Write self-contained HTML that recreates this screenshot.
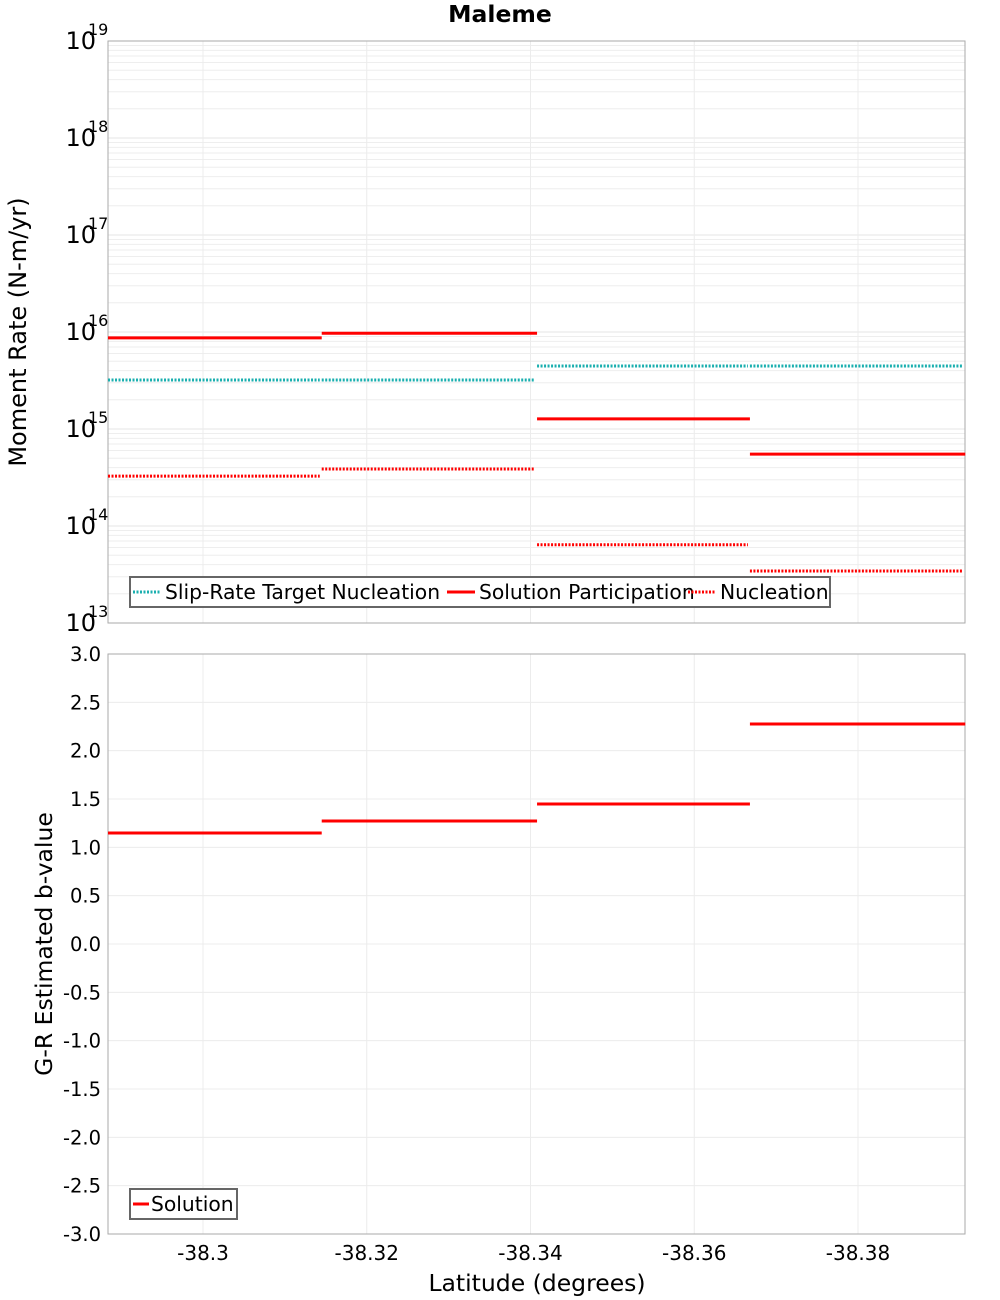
<!DOCTYPE html>
<html><head><meta charset="utf-8"><style>
body{margin:0;background:#fff;}
svg{display:block;font-family:"DejaVu Sans","Liberation Sans",sans-serif;}
</style></head><body>
<svg id="c" width="1000" height="1300" xmlns="http://www.w3.org/2000/svg"></svg>
<script>
// data
const segStarts = [-38.2884, -38.3145, -38.3408, -38.3668];
const segEnds   = [-38.3145, -38.3408, -38.3668, -38.3931];
const slipTarget = [3.2e15, 3.2e15, 4.46e15, 4.46e15];
const solutionPart = [8.7e15, 9.7e15, 1.27e15, 5.5e14];
const nucleation = [3.27e14, 3.87e14, 6.4e13, 3.44e13];
const bValues = [1.148, 1.272, 1.448, 2.276];
const xTicks = [-38.3, -38.32, -38.34, -38.36, -38.38];
const xTickLabels = ["-38.3", "-38.32", "-38.34", "-38.36", "-38.38"];
const logTicks = [13, 14, 15, 16, 17, 18, 19];
const bTicks = [3.0,2.5,2.0,1.5,1.0,0.5,0.0,-0.5,-1.0,-1.5,-2.0,-2.5,-3.0];

const NS="http://www.w3.org/2000/svg";
const svg=document.getElementById('c');
const L=108,R=965,T1=41,B1=623,T2=654,B2=1234;
const X=v=>203+(-38.3-v)*8187.5;
const Y1=v=>B1-(Math.log10(v)-13)*(B1-T1)/6;
const Y2=v=>T2+(3-v)*(B2-T2)/6;
function mk(tag,attrs,parent){const e=document.createElementNS(NS,tag);for(const k in attrs)e.setAttribute(k,attrs[k]);(parent||svg).appendChild(e);return e;}

const p1=mk('rect',{x:L,y:T1,width:R-L,height:B1-T1,fill:'#fff',stroke:'none'});


const p2=mk('rect',{x:L,y:T2,width:R-L,height:B2-T2,fill:'#fff',stroke:'none'});


for(let d=13;d<19;d++)for(let m=1;m<10;m++){const y=Y1(m*Math.pow(10,d));
 mk('line',{x1:L,x2:R,y1:y,y2:y,stroke:m==1?'#e6e6e6':'#eeeeee','stroke-width':1});}
for(const v of bTicks){const y=Y2(v);mk('line',{x1:L,x2:R,y1:y,y2:y,stroke:'#ececec'});}
for(const v of xTicks){const x=X(v);
 mk('line',{x1:x,x2:x,y1:T1,y2:B1,stroke:'#ececec'});
 mk('line',{x1:x,x2:x,y1:T2,y2:B2,stroke:'#ececec'});}
mk('rect',{x:L,y:T1,width:R-L,height:B1-T1,fill:'none',stroke:'#aaa'});
mk('rect',{x:L,y:T2,width:R-L,height:B2-T2,fill:'none',stroke:'#aaa'});

logTicks.forEach(d=>{const y=Y1(Math.pow(10,d));
 const t=mk('text',{x:96,y:y+8,'text-anchor':'end','font-size':24});t.textContent='10';
 
 
 const s=mk('text',{x:88,y:y-6,'font-size':16});s.textContent=String(d);
 
 
});
bTicks.forEach(v=>{const t=mk('text',{x:101,y:Y2(v)+7,'text-anchor':'end','font-size':19.5});t.textContent=v.toFixed(1);
 
 });
xTicks.forEach((v,i)=>{const t=mk('text',{x:X(v),y:1260,'text-anchor':'middle','font-size':20});t.textContent=xTickLabels[i];
 
 });

let t=mk('text',{x:500,y:22,'text-anchor':'middle','font-size':23.5,'font-weight':'bold'});t.textContent='Maleme';


t=mk('text',{x:0,y:0,'text-anchor':'middle','font-size':24,transform:'translate(26,332) rotate(-90)'});t.textContent='Moment Rate (N-m/yr)';


t=mk('text',{x:0,y:0,'text-anchor':'middle','font-size':23.5,transform:'translate(52,944) rotate(-90)'});t.textContent='G-R Estimated b-value';


t=mk('text',{x:537,y:1291,'text-anchor':'middle','font-size':23.5});t.textContent='Latitude (degrees)';



function seg(arr,Yf,color,dash,name,shrink){arr.forEach((v,i)=>{
 const l=mk('line',{x1:X(segStarts[i]),x2:X(segEnds[i])-shrink,y1:Yf(v),y2:Yf(v),stroke:color,'stroke-width':3});
 if(dash)l.setAttribute('stroke-dasharray','2,1.5');
 
 });}
seg(slipTarget,Y1,'#1aafaf',true,'slip-rate-target',2);
seg(solutionPart,Y1,'#ff0000',false,'solution-participation',0);
seg(nucleation,Y1,'#ff0000',true,'nucleation',2);
seg(bValues,Y2,'#ff0000',false,'b-value-solution',0);

let g=mk('g',{});
mk('rect',{x:130,y:577,width:700,height:30,fill:'#fff',stroke:'#666','stroke-width':2},g);
const items=[['Slip-Rate Target Nucleation','#1aafaf',true,133],['Solution Participation','#ff0000',false,447],['Nucleation','#ff0000',true,688]];
items.forEach(([lab,c,d,x])=>{const l=mk('line',{x1:x,x2:x+28,y1:592,y2:592,stroke:c,'stroke-width':3},g);
 if(d)l.setAttribute('stroke-dasharray','2,1.5');
 const tt=mk('text',{x:x+32,y:599,'font-size':20.3},g);tt.textContent=lab;
 
 });
g=mk('g',{});
mk('rect',{x:130,y:1189,width:107,height:30,fill:'#fff',stroke:'#666','stroke-width':2},g);
mk('line',{x1:133,x2:149,y1:1204,y2:1204,stroke:'#ff0000','stroke-width':3},g);
t=mk('text',{x:151,y:1211,'font-size':20.3},g);t.textContent='Solution';


</script>
</body></html>
